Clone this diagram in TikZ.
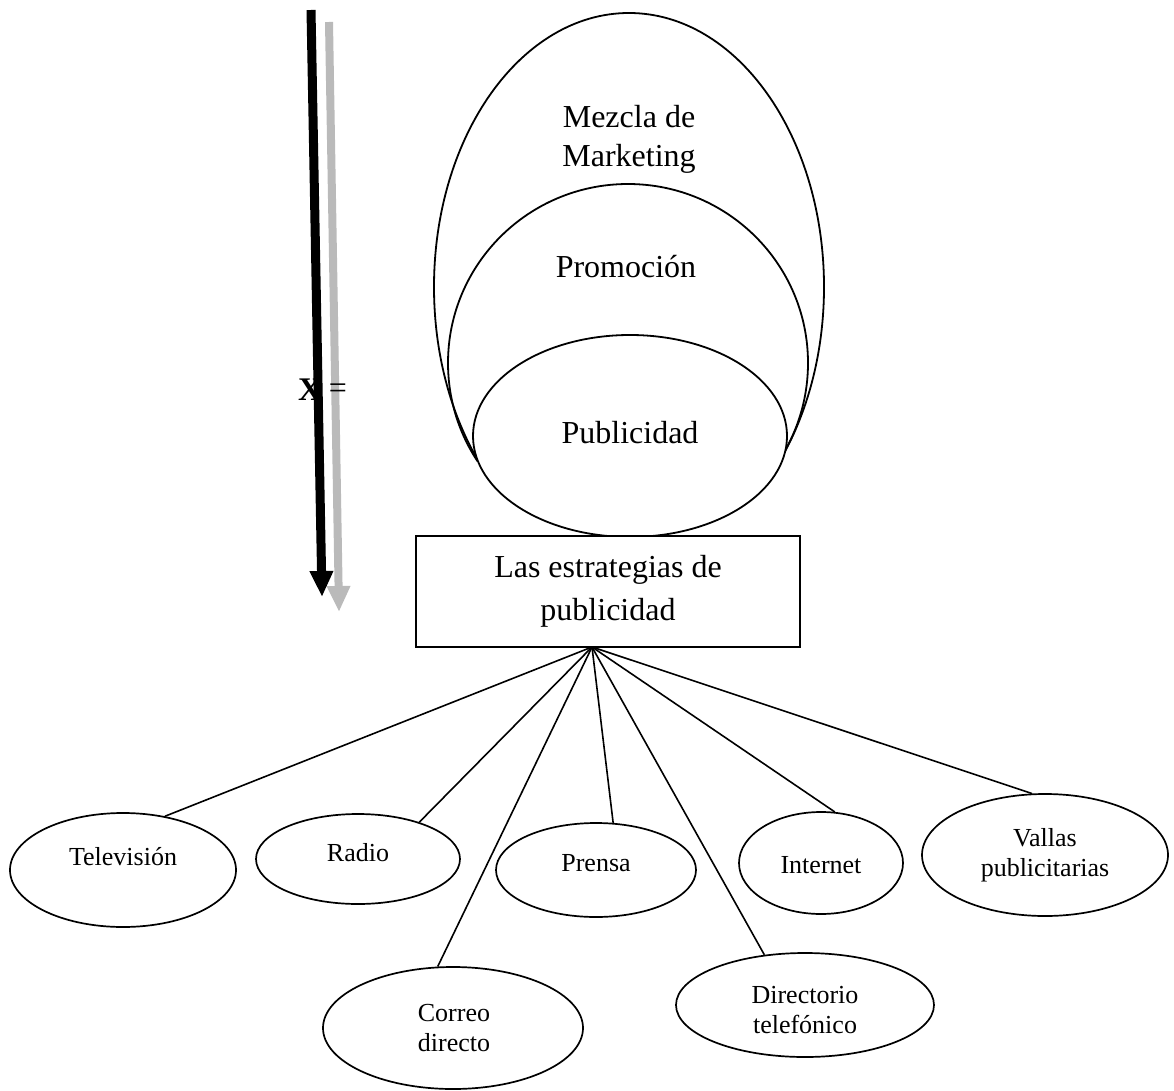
\documentclass[tikz,border=0pt]{standalone}
\usepackage{fontspec}
\setmainfont{Liberation Serif}
\usetikzlibrary{shapes.geometric,arrows.meta}
\begin{document}
\begin{tikzpicture}[x=1pt,y=-1pt,
  ring/.style={draw,line width=1.8pt,ellipse,inner sep=0pt},
  bigtext/.style={font=\fontsize{32}{39}\selectfont,align=center},
  media/.style={draw,ellipse,line width=1.7pt,inner sep=0pt},
  mtext/.style={font=\fontsize{26}{30}\selectfont,align=center,inner sep=0pt},
  link/.style={line width=1.6pt},
  axis/.style={line width=#1,-{Triangle[length=26pt,width=22pt]}}]
\useasboundingbox (0,0) rectangle (1174,1091);

% nested marketing circles; their lower arcs disappear behind "Publicidad"
\begin{scope}
  \clip (0,0) rectangle (1174,461);
  \node[ring,minimum width=390pt,minimum height=548pt] (mix) at (629,287) {};
  \node[ring,minimum width=360pt,minimum height=358pt] (promo) at (628,363) {};
\end{scope}
\node[ring,fill=white,minimum width=314pt,minimum height=202pt] (pub) at (630,436) {};
\node[bigtext] (mixlbl) at (629,139) {Mezcla de\\Marketing};
\node[bigtext] (promolbl) at (626,267) {Promoción};
\node[bigtext] (publbl) at (630,433) {Publicidad};

% strategy box
\node[draw,fill=white,line width=1.8pt,minimum width=384pt,minimum height=111pt,
  inner sep=0pt,bigtext] (strat) at (608,591.5) {Las estrategias de\\[4pt]publicidad};
\coordinate (hub) at (592,647);

% media
\node[media,minimum width=226pt,minimum height=114pt] (tv) at (123,870) {};
\node[media,minimum width=204pt,minimum height=90pt] (radio) at (358,859) {};
\node[media,minimum width=260pt,minimum height=122pt] (mail) at (453,1028) {};
\node[media,minimum width=200pt,minimum height=94pt] (press) at (596,870) {};
\node[media,minimum width=258pt,minimum height=104pt] (dir) at (805,1005) {};
\node[media,minimum width=164pt,minimum height=102pt] (web) at (821,863) {};
\node[media,minimum width=246pt,minimum height=122pt] (bill) at (1045,855) {};

\node[mtext] (tvt) at (123,857) {Televisión};
\node[mtext] (radiot) at (358,853) {Radio};
\node[mtext] (mailt) at (454,1028) {Correo\\directo};
\node[mtext] (presst) at (596,863) {Prensa};
\node[mtext] (dirt) at (805,1010) {Directorio\\telefónico};
\node[mtext] (webt) at (821,865) {Internet};
\node[mtext] (billt) at (1045,855) {Vallas\\publicitarias};

\draw[link] (hub) -- (tv.52);
\draw[link] (hub) -- (radio.31);
\draw[link] (hub) -- (mail.104);
\draw[link] (hub) -- (press.70);
\draw[link] (hub) -- (dir.129);
\draw[link] (hub) -- (web.75);
\draw[link] (hub) -- (bill.102);

% axis label and arrows
\node[font=\fontsize{33}{33}\selectfont\bfseries,inner sep=0pt] (xlbl) at (310,390) {X};
\coordinate (gtop) at (329,22);
\coordinate (gtip) at (339,612);
\coordinate (btop) at (311,10);
\coordinate (btip) at (322,597);
\draw[axis=8pt,draw=black!27,fill=black!27] (gtop) -- (gtip);
\draw[axis=9pt,draw=black,fill=black] (btop) -- (btip);
\node[font=\fontsize{32}{32}\selectfont,inner sep=0pt] (eq) at (338,391) {=};
\end{tikzpicture}
\end{document}
